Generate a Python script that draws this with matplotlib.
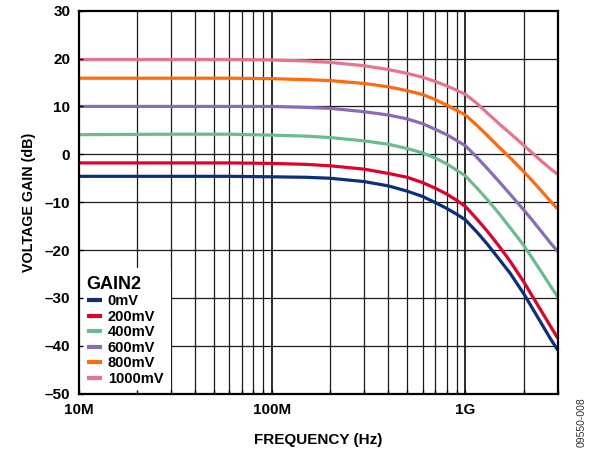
import matplotlib
matplotlib.use("Agg")
import matplotlib.pyplot as plt
from matplotlib.ticker import NullFormatter

plt.rcParams['font.family'] = ['Liberation Sans', 'DejaVu Sans']
plt.rcParams['font.weight'] = 'bold'

# frequency points (Hz)
freq = [1e7, 3e7, 6e7, 1e8, 1.5e8, 2e8, 3e8, 4e8, 5e8, 6e8, 7e8, 8e8, 9e8,
        1e9, 1.15e9, 1.3e9, 1.5e9, 1.7e9, 2e9, 2.2e9, 2.5e9, 2.75e9, 3e9]

# voltage gain (dB) for each GAIN2 setting
gain_0mV = [-4.6, -4.6, -4.6, -4.7, -4.8, -5.0, -5.7, -6.6, -7.7, -8.8, -10.1, -11.3, -12.5,
            -13.7, -16.3, -18.8, -22.0, -24.8, -29.1, -31.9, -35.7, -38.5, -40.9]
gain_200mV = [-1.8, -1.8, -1.8, -1.9, -2.1, -2.4, -3.1, -4.0, -4.8, -5.9, -7.1, -8.3, -9.6,
              -10.9, -13.6, -16.1, -19.3, -22.3, -26.6, -29.4, -33.1, -35.9, -38.4]
gain_400mV = [4.1, 4.2, 4.2, 4.0, 3.8, 3.5, 2.8, 2.1, 1.2, 0.3, -0.8, -2.0, -3.3,
              -4.5, -7.1, -9.5, -12.5, -15.3, -19.0, -21.5, -24.9, -27.5, -29.8]
gain_600mV = [10.0, 10.0, 10.0, 10.0, 9.8, 9.6, 8.9, 8.2, 7.4, 6.4, 5.2, 4.1, 2.9,
              1.8, -0.7, -3.0, -5.8, -8.3, -11.6, -13.6, -16.4, -18.5, -20.3]
gain_800mV = [15.9, 15.9, 15.9, 15.8, 15.6, 15.4, 14.8, 14.1, 13.3, 12.5, 11.4, 10.3, 9.2,
              8.2, 6.0, 3.9, 1.4, -0.7, -3.6, -5.4, -7.9, -9.8, -11.4]
gain_1000mV = [19.8, 19.8, 19.8, 19.7, 19.5, 19.2, 18.5, 17.7, 16.9, 16.1, 15.2, 14.3, 13.4,
               12.5, 10.6, 8.6, 6.3, 4.4, 1.9, 0.4, -1.6, -3.0, -4.2]

labels = ['0mV', '200mV', '400mV', '600mV', '800mV', '1000mV']
colors = ['#0b2f7a', '#e0002b', '#6cbb90', '#8a6bb5', '#ff6a0e', '#e8738f']
series = [gain_0mV, gain_200mV, gain_400mV, gain_600mV, gain_800mV, gain_1000mV]

y_ticks = [-50, -40, -30, -20, -10, 0, 10, 20, 30]
x_ticks = [1e7, 1e8, 1e9]
x_tick_labels = ['10M', '100M', '1G']

fig = plt.figure(figsize=(5.9, 4.51), dpi=100)
ax = fig.add_axes([0.1331, 0.1271, 0.8122, 0.8492])

ax.set_xscale('log')
ax.set_xlim(1e7, 3e9)
ax.set_ylim(-50, 30)
ax.set_axisbelow(False)

for vals, lab, col in zip(series, labels, colors):
    ax.plot(freq, vals, color=col, lw=2.3, label=lab, zorder=2, solid_capstyle='butt')

ax.set_xticks(x_ticks, labels=x_tick_labels)
ax.xaxis.set_minor_formatter(NullFormatter())
ax.set_yticks(y_ticks, labels=[str(v).replace('-', '\u2013') for v in y_ticks])

# grid lines drawn by hand so the legend box can sit on top of them
for xv in ax.xaxis.get_minorticklocs():
    if 1e7 < xv < 3e9:
        ax.axvline(xv, color='#1a1a1a', lw=0.9, zorder=0.5)
for xv in x_ticks[1:]:
    ax.axvline(xv, color='#1a1a1a', lw=1.3, zorder=0.5)
for yv in y_ticks[1:-1]:
    ax.axhline(yv, color='#1a1a1a', lw=0.9, zorder=0.5)

ax.tick_params(axis='both', which='both', direction='in', width=1, labelsize=11)
ax.tick_params(axis='both', which='major', length=3)
ax.tick_params(axis='x', which='minor', length=3)
ax.tick_params(axis='x', pad=7)
ax.tick_params(axis='y', pad=6)

for s in ax.spines.values():
    s.set_linewidth(1.6)

ax.set_xlabel('FREQUENCY (Hz)', fontsize=11, fontweight='bold', labelpad=11)
ax.set_ylabel('VOLTAGE GAIN (dB)', fontsize=10.3, fontweight='bold', labelpad=6)

leg = ax.legend(loc='lower left', bbox_to_anchor=(0, 0), borderaxespad=0,
                title='GAIN2', fontsize=10.5, title_fontproperties={'weight': 'bold', 'size': 13},
                frameon=True, fancybox=False, framealpha=1, edgecolor='none',
                facecolor='white', handlelength=1.05, handletextpad=0.4,
                labelspacing=0.1, borderpad=0.55, alignment='left')
for line in leg.get_lines():
    line.set_linewidth(3)
leg.set_zorder(1)

fig.text(0.9856, 0.064, '09550-008', rotation=90, fontsize=7.5, fontweight='normal',
         ha='center', va='center', color='#333333')

fig.savefig('out.png', dpi=100)
